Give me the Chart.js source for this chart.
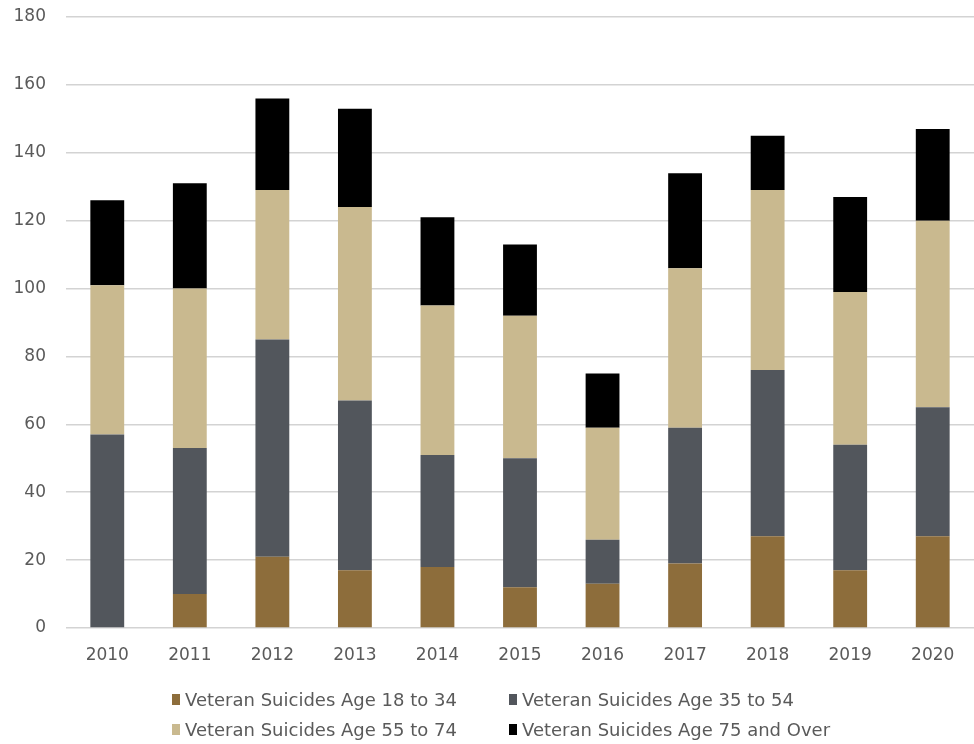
<!DOCTYPE html>
<html>
<head>
<meta charset="utf-8">
<script src="https://cdn.jsdelivr.net/npm/chart.js@4/dist/chart.umd.min.js"></script>
<style>
  html, body { margin: 0; padding: 0; background: #ffffff; }
  #wrap { position: relative; width: 974px; height: 744px; }
  #legend {
    position: absolute; left: 172px; top: 684px;
    display: grid; grid-template-columns: 337px auto; grid-auto-rows: 30px;
    font-family: "DejaVu Sans", sans-serif; font-size: 18px; color: #5a5a5a;
  }
  .item { display: flex; align-items: center; white-space: nowrap; }
  .box { width: 8px; height: 11px; margin-right: 5px; display: inline-block; }
</style>
</head>
<body>
<div id="wrap">
  <canvas id="c" width="974" height="744"></canvas>
  <div id="legend"></div>
</div>
<script>
const years = ["2010","2011","2012","2013","2014","2015","2016","2017","2018","2019","2020"];
const seriesNames = [
  "Veteran Suicides Age 18 to 34",
  "Veteran Suicides Age 35 to 54",
  "Veteran Suicides Age 55 to 74",
  "Veteran Suicides Age 75 and Over"
];
const age18to34 = [0, 10, 21, 17, 18, 12, 13, 19, 27, 17, 27];
const age35to54 = [57, 43, 64, 50, 33, 38, 13, 40, 49, 37, 38];
const age55to74 = [44, 47, 44, 57, 44, 42, 33, 47, 53, 45, 55];
const age75plus = [25, 31, 27, 29, 26, 21, 16, 28, 16, 28, 27];
const seriesColors = ["#8d6d3b", "#52565c", "#c9b98f", "#000000"];
const yTicks = [0, 20, 40, 60, 80, 100, 120, 140, 160, 180];

const seriesValues = [age18to34, age35to54, age55to74, age75plus];
const datasets = seriesValues.map((vals, i) => ({
  label: seriesNames[i],
  data: vals,
  backgroundColor: seriesColors[i],
  borderWidth: 0,
  barPercentage: 0.41,
  categoryPercentage: 1.0
}));

new Chart(document.getElementById("c"), {
  type: "bar",
  data: { labels: years, datasets: datasets },
  options: {
    responsive: false,
    animation: false,
    events: [],
    layout: { padding: { top: 17, right: 0, bottom: 0, left: 0 } },
    plugins: { legend: { display: false }, tooltip: { enabled: false }, title: { display: false } },
    scales: {
      x: {
        stacked: true,
        grid: { display: false, drawTicks: false },
        border: { display: false },
        ticks: {
          padding: 17,
          color: "#5a5a5a",
          font: { family: "DejaVu Sans", size: 17 }
        },
        afterFit: s => { s.height = 116; s.paddingLeft = 0; s.paddingRight = 0; }
      },
      y: {
        stacked: true,
        min: yTicks[0],
        max: yTicks[yTicks.length - 1],
        afterBuildTicks: s => { s.ticks = yTicks.map(v => ({ value: v })); },
        grid: { color: "#d3d3d3", lineWidth: 1.5, drawTicks: false },
        border: { display: false },
        ticks: {
          padding: 20,
          color: "#5a5a5a",
          font: { family: "DejaVu Sans", size: 17 }
        },
        afterFit: s => { s.width = 66; s.paddingTop = 0; s.paddingBottom = 0; }
      }
    }
  }
});

const legend = document.getElementById("legend");
seriesNames.forEach((name, i) => {
  const item = document.createElement("div");
  item.className = "item";
  const box = document.createElement("span");
  box.className = "box";
  box.style.background = seriesColors[i];
  const txt = document.createElement("span");
  txt.textContent = name;
  item.appendChild(box);
  item.appendChild(txt);
  legend.appendChild(item);
});
</script>
</body>
</html>
